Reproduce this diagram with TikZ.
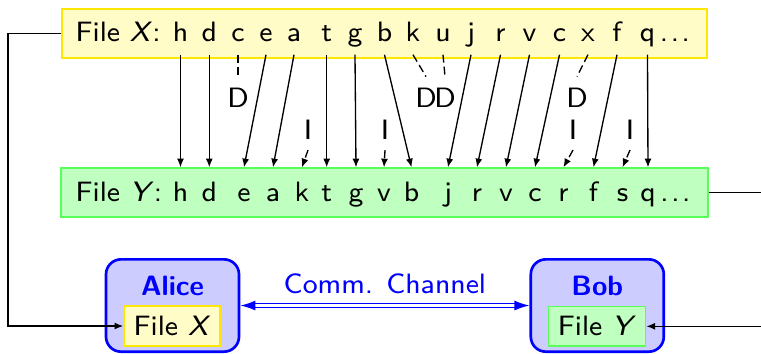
\documentclass[tikz,border=0pt]{standalone}
\usetikzlibrary{arrows.meta}
\newcommand{\spaceddots}{.\kern0.8pt.\kern0.8pt.}
\begin{document}
\begin{tikzpicture}[x=0.3pt,y=-0.3pt,
  font=\sffamily\fontsize{8.4}{10}\selectfont,
  xbox/.style={draw=yellow!90!orange, fill=yellow!22, line width=0.45pt, inner sep=0pt},
  ybox/.style={draw=green!65, fill=green!25, line width=0.45pt, inner sep=0pt},
  toplet/.style={anchor=base, inner sep=0pt, text depth=3.7pt},
  botlet/.style={anchor=base, inner sep=0pt, text height=10pt},
  edit/.style={inner sep=3.1pt},
  move/.style={-{Latex[length=2.6pt,width=2.1pt]}, line width=0.4pt},
  editline/.style={dash pattern=on 2.4pt off 1.2pt},
  party/.style={draw=blue, fill=blue!20, line width=0.8pt, rounded corners=4.5pt,
                minimum width=39.9pt, minimum height=27.7pt, inner sep=0pt},
  partyname/.style={anchor=base, text=blue, inner sep=0pt, font=\sffamily\bfseries\fontsize{8.4}{10}\selectfont},
  channel/.style={draw=blue, line width=0.45pt, double=white, double distance=0.75pt,
                  {Latex[length=4.5pt,width=3pt]}-{Latex[length=4.5pt,width=3pt]}},
]
\useasboundingbox (0,0) rectangle (761,353);
\clip (0,0) rectangle (761,353);

% the two files as rows of symbols
\node[xbox, minimum width=193.5pt, minimum height=14.7pt] (filex) at (384.5,33.5) {};
\node[ybox, minimum width=194.1pt, minimum height=14.7pt] (filey) at (384.5,192.5) {};
\node[anchor=base west, inner sep=0pt] (labx) at (75,41.7) {File \textsl{X}:};
\node[anchor=base west, inner sep=0pt] (laby) at (75,201.3) {File \textsl{Y}:};

\foreach \i/\c/\x in {1/h/180.5, 2/d/209.3, 3/c/238, 4/e/266, 5/a/294, 6/t/326.7,
    7/g/355, 8/b/384.5, 9/k/413, 10/u/443, 11/j/471, 12/r/500.5, 13/v/529.5,
    14/c/559.5, 15/x/588, 16/f/617, 17/q/647.5}
  \node[toplet] (t\i) at (\x,41.7) {\c};
\foreach \i/\c/\x in {1/h/180.5, 2/d/209.3, 3/e/244, 4/a/273, 5/k/302, 6/t/326.7,
    7/g/356, 8/v/384, 9/b/411.5, 10/j/448, 11/r/477, 12/v/506, 13/c/535,
    14/r/563.5, 15/f/593.5, 16/s/622.5, 17/q/648}
  \node[botlet] (b\i) at (\x,201.3) {\c};
\node[anchor=base west, inner sep=0pt] (tdots) at ([xshift=1pt]t17.base east) {\spaceddots};
\node[anchor=base west, inner sep=0pt] (bdots) at ([xshift=1pt]b17.base east) {\spaceddots};

% deletions and insertions
\node[edit] (d1) at (238,97.3) {D};
\node[edit] (d2) at (426,97.3) {D};
\node[edit] (d3) at (445,97.3) {D};
\node[edit] (d4) at (577,97.3) {D};
\node[edit] (i1) at (308,129.3) {I};
\node[edit] (i2) at (385,129.3) {I};
\node[edit] (i3) at (573,129.3) {I};
\node[edit] (i4) at (630,129.3) {I};

% matched symbols
\foreach \a/\b in {1/1, 2/2, 4/3, 5/4, 6/6, 7/7, 8/9, 11/10, 12/11, 13/12, 14/13, 16/15, 17/17}
  \draw[move] (t\a.south) -- (b\b.north);
\foreach \a/\b in {3/1, 9/2, 10/3, 15/4}
  \draw[editline, line width=0.4pt] (t\a.south) -- (d\b.north);
\foreach \a/\b in {1/5, 2/8, 3/14, 4/16}
  \draw[move, editline] (i\a.south) -- (b\b.north);

% the two parties
\node[party] (alice) at (172.5,305.5) {};
\node[partyname] (alicename) at (172.5,295) {Alice};
\node[xbox, minimum width=28.8pt, minimum height=12pt] (alicefile) at (172,326) {File \textsl{X}};
\node[party] (bob) at (597.3,305.5) {};
\node[partyname] (bobname) at (597.3,295) {Bob};
\node[ybox, minimum width=29.2pt, minimum height=11.8pt] (bobfile) at (597,326.3) {File \textsl{Y}};

\draw[channel] (alice.east) -- node[above, text=blue, inner sep=3.3pt] (chan) {Comm. Channel} (bob.west);

% each file goes to its owner
\coordinate (lturn) at (8,33.5);
\coordinate (rturn) at (775,192.5);
\draw[move] (filex.west) -- (lturn) |- (alicefile.west);
\draw[move] (filey.east) -- (rturn) |- (bobfile.east);
\end{tikzpicture}
\end{document}
